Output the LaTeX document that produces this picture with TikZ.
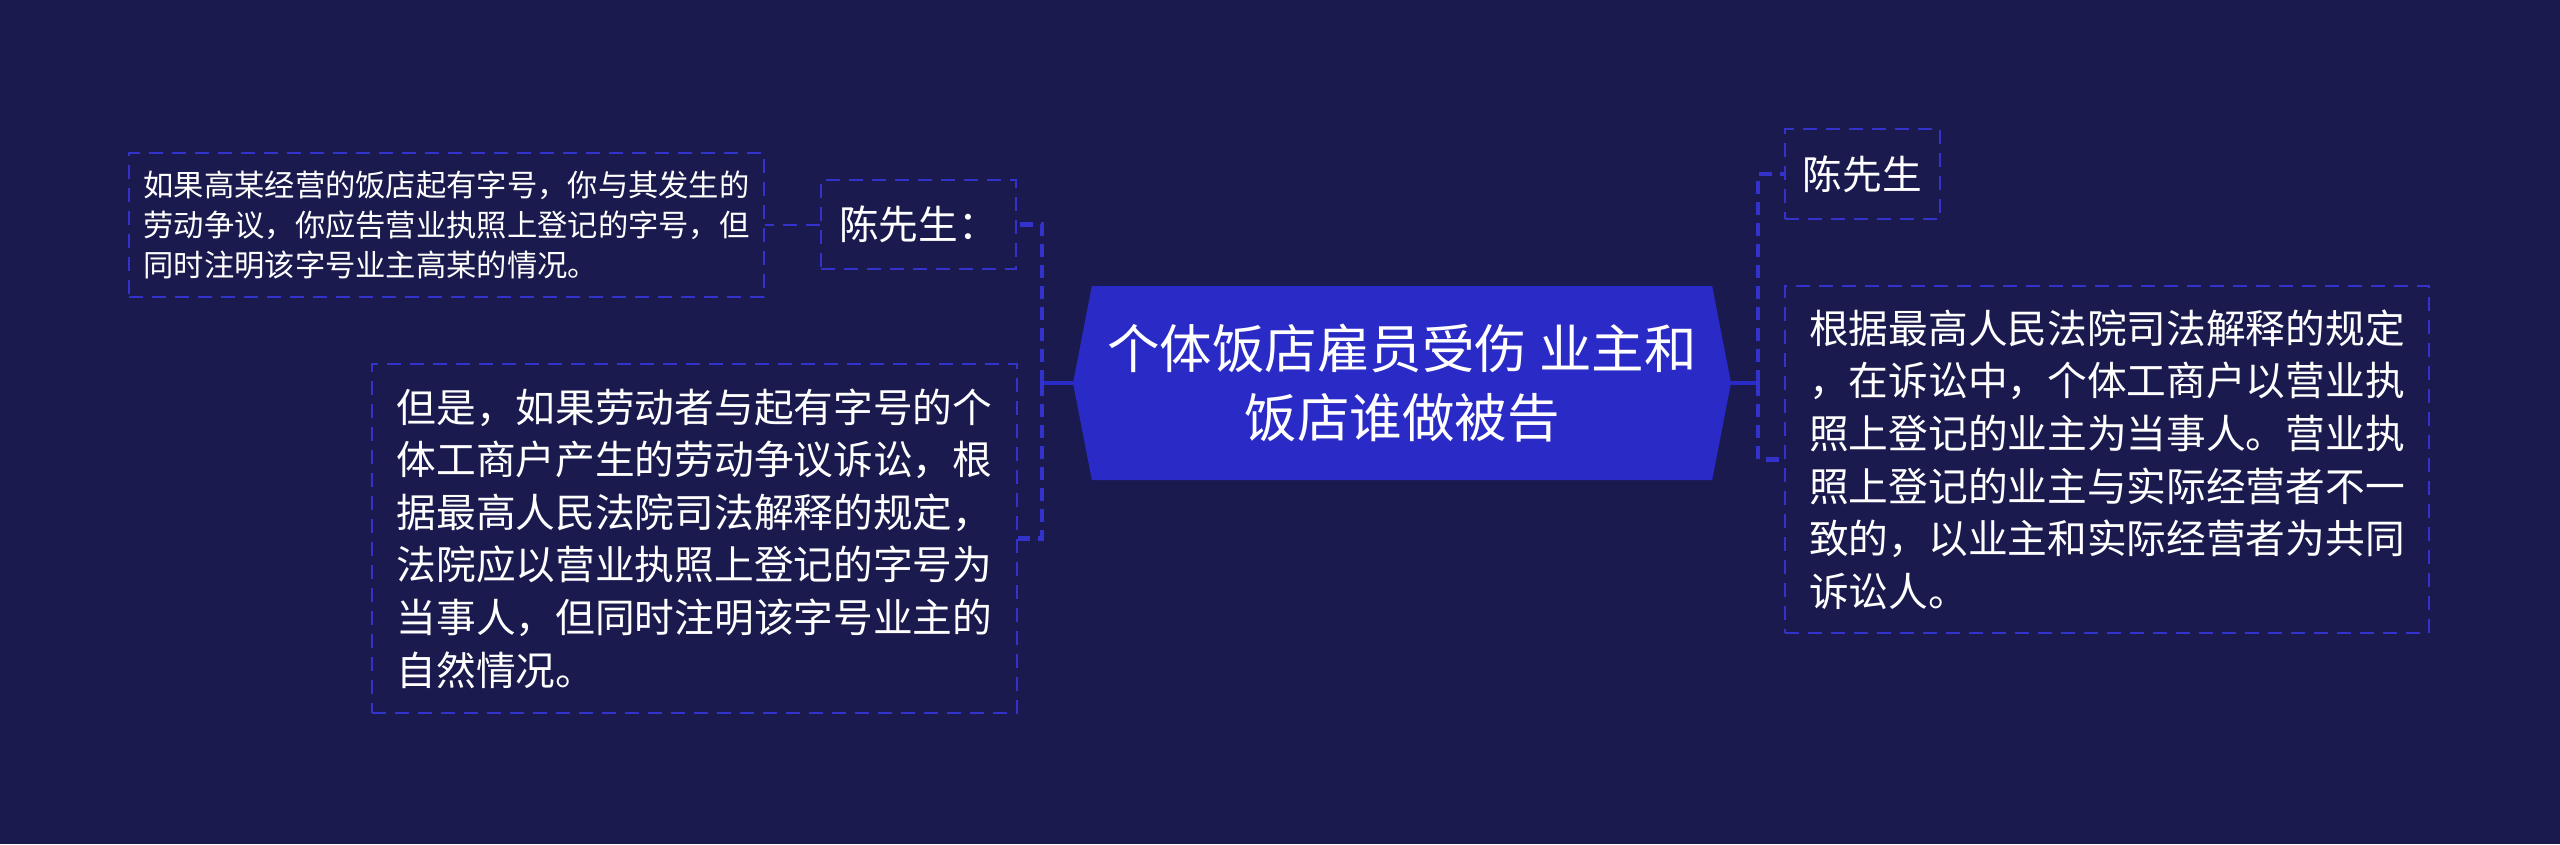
\documentclass[tikz,border=0pt]{standalone}
\usepackage{fontspec}
\setmainfont{Noto Sans CJK SC}
\usetikzlibrary{positioning, shapes.symbols, calc}
\definecolor{bgnavy}{HTML}{1A1A4E}
\definecolor{topicblue}{HTML}{2A2AC6}
\definecolor{linkblue}{HTML}{3333CC}

\begin{document}
\begin{tikzpicture}[x=1pt, y=-1pt,
  topic/.style={shape=signal, signal to=east and west, signal pointer angle=158,
    fill=topicblue, text=white, minimum width=658pt, minimum height=194pt,
    inner sep=0pt, align=center, font=\fontsize{52.5}{69}\selectfont},
  leaf/.style={draw=linkblue, line width=2pt, dash pattern=on 14pt off 9pt,
    text=white, align=left, inner sep=0pt, font=\fontsize{39.7}{52.6}\selectfont},
  link/.style={draw=linkblue, line width=4.5pt, dash pattern=on 13pt off 8pt},
  thinlink/.style={draw=linkblue, line width=2pt, dash pattern=on 14pt off 9pt},
  stem/.style={draw=topicblue, line width=4pt}]
  \fill[bgnavy] (0,0) rectangle (2560,844);
  \useasboundingbox (0,0) rectangle (2560,844);

  \node[topic] (topic) at (1402,383) {个体饭店雇员受伤 业主和\\饭店谁做被告};

  % left side
  \node[leaf, minimum width=195pt, minimum height=89pt] (chenl) at (918.5,224.5) {陈先生：};
  \node[leaf, minimum width=635pt, minimum height=144pt, font=\fontsize{30.3}{40}\selectfont,
    left=55pt of chenl] (advice) {如果高某经营的饭店起有字号，你与其发生的\\劳动争议，你应告营业执照上登记的字号，但\\同时注明该字号业主高某的情况。};
  \node[leaf, minimum width=645pt, minimum height=349pt] (butif) at (694.5,538.5) {但是，如果劳动者与起有字号的个\\体工商户产生的劳动争议诉讼，根\\据最高人民法院司法解释的规定，\\法院应以营业执照上登记的字号为\\当事人，但同时注明该字号业主的\\自然情况。};

  % right side
  \node[leaf, minimum width=155pt, minimum height=90pt] (chenr) at (1862.5,174) {陈先生};
  \node[leaf, minimum width=644pt, minimum height=347pt] (ruling) at (2107,459.5) {根据最高人民法院司法解释的规定\\，在诉讼中，个体工商户以营业执\\照上登记的业主为当事人。营业执\\照上登记的业主与实际经营者不一\\致的，以业主和实际经营者为共同\\诉讼人。};

  \coordinate (jl) at (1042,383);
  \coordinate (jr) at (1758,383);
  \path[stem] (topic.west) edge (jl)
              (topic.east) edge (jr);
  \draw[link] (jl) |- (chenl.east);
  \draw[link] (jl) |- (butif.east);
  \draw[thinlink] (chenl.west) -- (advice.east);
  \draw[link] (jr) |- (chenr.west);
  \draw[link] (jr) |- (ruling.west);
\end{tikzpicture}
\end{document}
